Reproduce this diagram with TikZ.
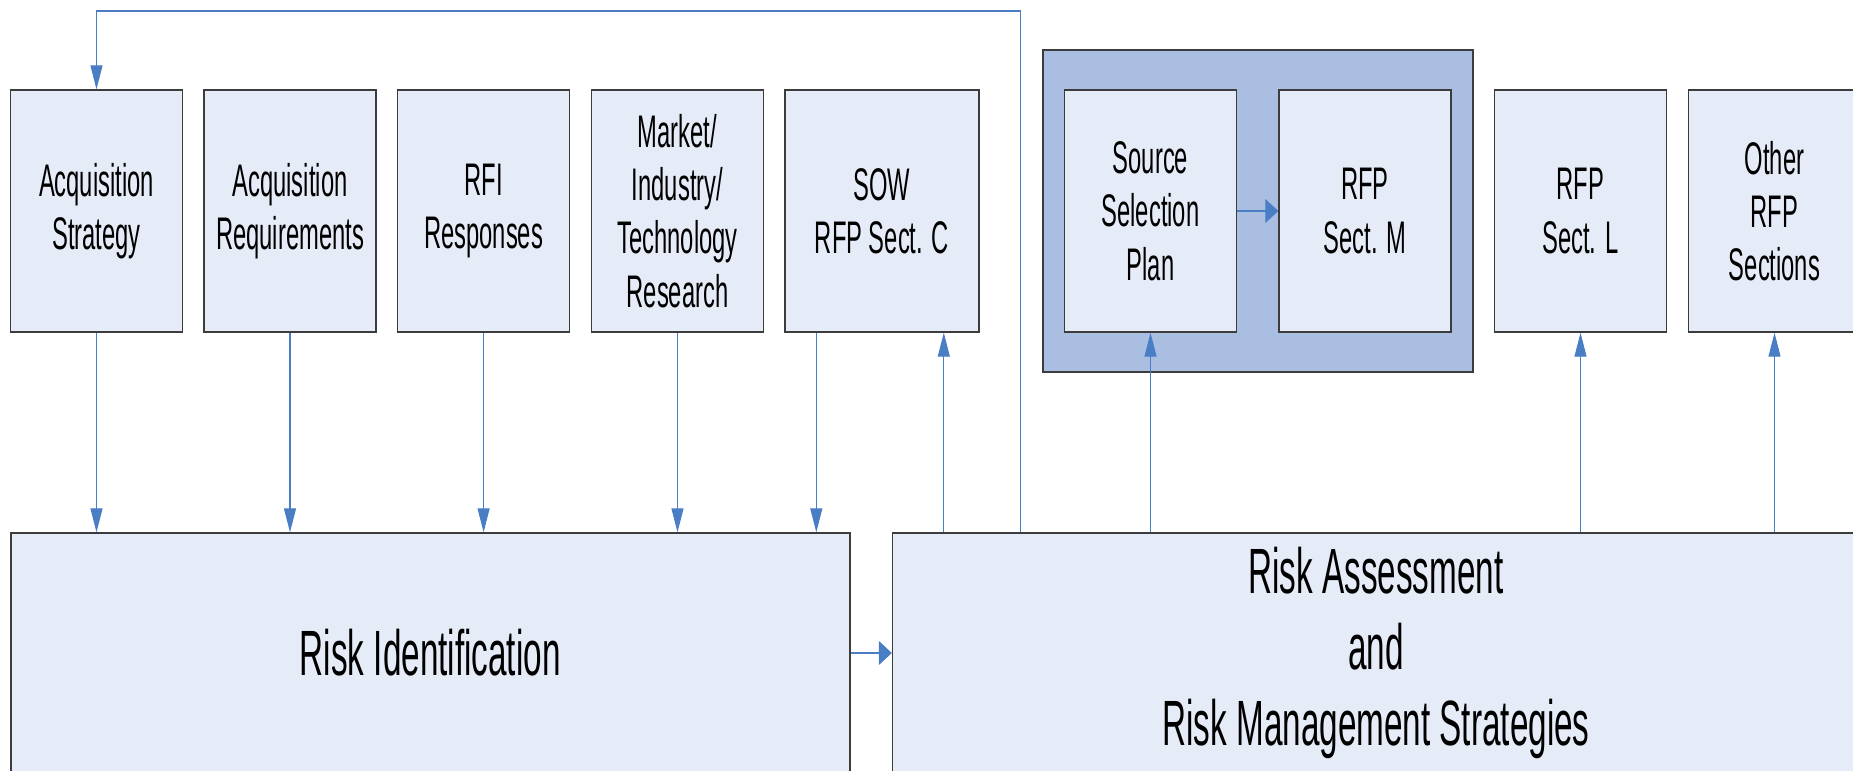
\documentclass[tikz,border=0pt]{standalone}
\usepackage{fontspec}
\setmainfont{Liberation Sans}[FakeStretch=0.52]
\usetikzlibrary{arrows.meta}
\definecolor{boxfill}{HTML}{E6ECF7}
\definecolor{outerfill}{HTML}{A9BEE1}
\definecolor{linkblue}{HTML}{4A7EC4}
\definecolor{edgegray}{HTML}{3C3C3C}
\begin{document}
\begin{tikzpicture}[x=0.5pt,y=-0.5pt,
  box/.style={draw=edgegray, line width=0.7pt, fill=boxfill, inner sep=0pt, align=center,
    font=\fontsize{22.85pt}{26.65pt}\selectfont},
  smallbox/.style={box, minimum width=86pt, minimum height=121pt},
  bigbox/.style={box, minimum height=120pt, font=\fontsize{32pt}{38pt}\selectfont},
  link/.style={draw=linkblue, line width=0.55pt},
  vtip/.style={-{Triangle[length=12pt,width=6pt]}},
  htip/.style={-{Triangle[length=6.5pt,width=12pt]}},
]
\useasboundingbox (0,0) rectangle (1853,771);
% group background
\node[draw=edgegray, line width=0.7pt, fill=outerfill, minimum width=215pt, minimum height=161pt, inner sep=0pt] (grp) at (1258,211) {};
% top boxes
\node[smallbox] (a1) at (96.5,211) {Acquisition\\Strategy};
\node[smallbox] (a2) at (290,211) {Acquisition\\Requirements};
\node[smallbox] (a3) at (483.6,211) {RFI\\Responses};
\node[smallbox] (a4) at (677.5,211) {Market/\\Industry/\\Technology\\Research};
\node[smallbox, minimum width=97pt] (a5) at (882,211) {SOW\\RFP Sect. C};
\node[smallbox] (ss) at (1150.5,211) {Source\\Selection\\Plan};
\node[smallbox] (rm) at (1365,211) {RFP\\Sect. M};
\node[smallbox] (rl) at (1580.5,211) {RFP\\Sect. L};
\node[smallbox] (ot) at (1774.5,211) {Other\\RFP\\Sections};
% bottom boxes
\node[bigbox, minimum width=419.5pt] (rid) at (430.3,653) {Risk Identification};
\node[bigbox, minimum width=483.5pt] (ra) at (1376,653) {Risk Assessment\\and\\Risk Management Strategies};
% connectors down
\draw[link,vtip] (a1.south) -- (a1.south |- rid.north);
\draw[link,vtip] (a2.south) -- (a2.south |- rid.north);
\draw[link,vtip] (a3.south) -- (a3.south |- rid.north);
\draw[link,vtip] (a4.south) -- (a4.south |- rid.north);
\draw[link,vtip] ([xshift=16pt]a5.south west) -- ([xshift=16pt]a5.south west |- rid.north);
% connectors up
\draw[link,vtip] ([xshift=26pt]ra.north west) -- ([xshift=26pt]ra.north west |- a5.south);
\draw[link,vtip] (ss.south |- ra.north) -- (ss.south);
\draw[link,vtip] (rl.south |- ra.north) -- (rl.south);
\draw[link,vtip] (ot.south |- ra.north) -- (ot.south);
% feedback loop
\coordinate (topy) at (0,11);
\draw[link,vtip] ([xshift=64.4pt]ra.north west) |- (topy -| a1.north) -- (a1.north);
% horizontal
\draw[link,htip] (ss.east) -- (rm.west);
\draw[link,htip] (rid.east) -- (ra.west);
\end{tikzpicture}
\end{document}
